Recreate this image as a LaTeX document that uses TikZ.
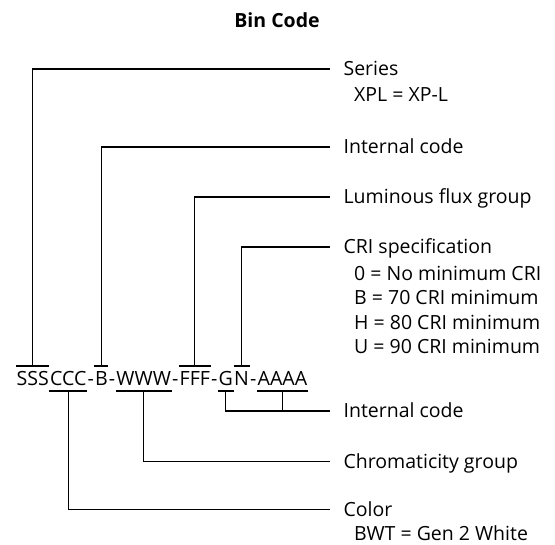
\documentclass[tikz,border=0pt]{standalone}
\usepackage{fontspec}
\setmainfont{Open Sans}
\usetikzlibrary{positioning}

\begin{document}
\begin{tikzpicture}[
  x=1pt,y=-1pt,
  line width=1.2pt,
  every node/.style={inner sep=0pt,font=\fontsize{19.5}{24.5}\selectfont},
  code/.style={anchor=base west,font=\fontsize{19.6}{24}\selectfont},
  lbl/.style={anchor=west,inner xsep=13pt,text height=13.9pt,text depth=0pt},
  sub/.style={anchor=north west,align=left}
]
\useasboundingbox (0,0) rectangle (555,545);

\node[font=\fontsize{19.5}{24}\selectfont\bfseries,anchor=base] (title) at (277,28) {Bin Code};

% ============================================================
% CODE STRING
% ============================================================

\node[code] (ser) at (16,386) {SSS};
\node[code] (col) at (ser.base east) {CCC};
\node[code] (h1) at (col.base east) {-};
\node[code] (ic) at (h1.base east) {B};
\node[code] (h2) at (ic.base east) {-};
\node[code] (chr) at (h2.base east) {WWW};
\node[code] (h3) at (chr.base east) {-};
\node[code] (lum) at (h3.base east) {FFF};
\node[code] (h4) at (lum.base east) {-};
\node[code] (icg) at (h4.base east) {G};
\node[code] (cri) at (icg.base east) {N};
\node[code] (h5) at (cri.base east) {-};
\node[code] (ica) at (h5.base east) {AAAA};

\coordinate (over) at (0,366);
\coordinate (under) at (0,391);

\foreach \g in {ser,ic,lum,cri} \draw (\g.west |- over) -- (\g.east |- over);
\foreach \g in {col,chr,icg,ica} \draw (\g.west |- under) -- (\g.east |- under);

% ============================================================
% TOP: fields read from above
% ============================================================

\node[lbl] (serL) at (330,69) {Series};
\node[sub,below right=10.6pt and 23.6pt of serL.south west] (serS) {XPL = XP-L};
\node[lbl] (icL) at (330,147) {Internal code};
\node[lbl] (lumL) at (330,197) {Luminous flux group};
\node[lbl] (criL) at (330,247) {CRI specification};
\node[sub,below right=10.6pt and 23.6pt of criL.south west] (criS) {0 = No minimum CRI\\B = 70 CRI minimum\\H = 80 CRI minimum\\U = 90 CRI minimum};

\draw (ser |- over) |- (serL.west);
\draw (ic |- over) |- (icL.west);
\draw (lum |- over) |- (lumL.west);
\draw (cri |- over) |- (criL.west);

% ============================================================
% BOTTOM: fields read from below
% ============================================================

\node[lbl] (icL2) at (330,411) {Internal code};
\node[lbl] (chrL) at (330,461.5) {Chromaticity group};
\node[lbl] (colL) at (330,509.5) {Color};
\node[sub,below right=8.4pt and 23.6pt of colL.south west] (colS) {BWT = Gen 2 White};

\draw (icg |- under) |- (icL2.west);
\draw (ica |- under) -- (ica |- icL2.west);
\draw (chr |- under) |- (chrL.west);
\draw (col |- under) |- (colL.west);

\end{tikzpicture}
\end{document}
